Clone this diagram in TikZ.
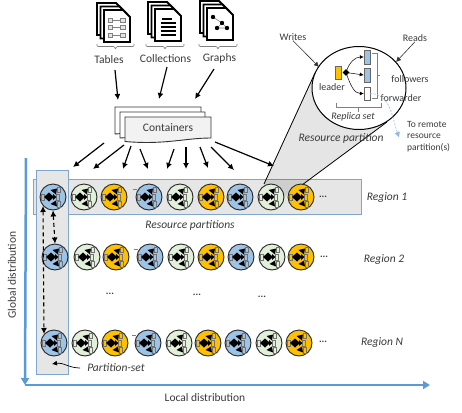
\documentclass[tikz,border=0pt]{standalone}
\usepackage{fontspec}
\setmainfont{Carlito}
\usetikzlibrary{arrows.meta,calc,positioning,shapes.geometric}
\definecolor{pcol1}{HTML}{9DC3E6}
\definecolor{pcol2}{HTML}{E2F0D9}
\definecolor{pcol0}{HTML}{FFC000}
\definecolor{axisblue}{HTML}{5B9BD5}
\definecolor{panelline}{HTML}{7FA6CC}
\definecolor{panelfill}{HTML}{E6E6E6}
\definecolor{txt}{HTML}{3A3A3A}

\begin{document}
\begin{tikzpicture}[x=1pt, y=-1pt, font=\fontsize{11.5pt}{13pt}\selectfont,
      lbl/.style = {inner sep=0pt, text=txt},
      ital/.style = {lbl, font=\fontsize{11.5pt}{13pt}\selectfont\itshape},
      flow/.style = {-{Latex[length=6pt,width=6pt]}, black, line width=1.2pt},
      dashflow/.style = {{Latex[length=6pt,width=6pt]}-{Latex[length=6pt,width=6pt]}, black, line width=1.1pt, dash pattern=on 4pt off 3pt},
      panel/.style = {draw=panelline, fill=panelfill, line width=1pt},
      partn/.style = {circle, draw=black!85, line width=.9pt, minimum size=26pt, inner sep=0pt},
      axisline/.style = {draw=axisblue, line width=2.5pt},
      bracket/.style = {draw=gray, line width=.6pt},
      sheet/.style = {draw=black!80, line width=.9pt},
      page/.style = {draw=black, fill=white, line width=1.9pt},
      cell/.style = {draw=gray, fill=black!10, line width=.5pt},
      mini/.style = {draw=black!55, line width=.5pt},
      replica/.style = {draw=black!60, line width=.5pt},
      docstack/.pic = {
        \foreach \off in {7,3.5,0} {
          \draw[page, line join=miter] (-\off,-\off+1) -- ++(19,0) -- ++(7,7) -- ++(0,25) -- ++(-26,0) -- cycle;
        }
      },
      tablebits/.pic = {
        \foreach \yy in {9,16.5,24} {
          \draw[gray, line width=.5pt] (6,\yy+2) -- (18,\yy+2);
          \draw[cell] (4,\yy) rectangle (8,\yy+4);
          \draw[cell] (16,\yy) rectangle (21,\yy+4);
        }
      },
      textbits/.pic = {
        \draw[black, line width=1.1pt] (7,11) -- (17,11);
        \foreach \yy in {15,19,23,27} {
          \draw[black, line width=1.1pt] (6,\yy) -- (21,\yy);
        }
      },
      graphbits/.pic = {
        \draw[gray, line width=.6pt] (6,10) -- (15,16) -- (10,21) (15,16) -- (20,21) -- (10,21);
        \foreach \gx/\gy in {6/10,15/16,10/21,20/21} {
          \fill[black] (\gx,\gy) circle (2.2pt);
        }
      },
      innards/.pic = {
        \draw[mini] (-11.5,-3) rectangle (-8.5,3);
        \draw[mini] (4.5,-10) rectangle (7.5,-4.5);
        \draw[mini] (3.5,-3) rectangle (6.5,3);
        \draw[mini] (4.5,4.5) rectangle (7.5,10);
        \fill[black] (-9,0) -- (-4,-4.5) -- (1,0) -- (-4,4.5) -- cycle;
        \fill[black] (0,-3) -- (3.5,0) -- (0,3) -- cycle;
        \fill[black] (-2.5,-7) -- (4,-8.5) -- (3,-2.5) -- cycle;
        \fill[black] (-2.5,7) -- (4,9.5) -- (3,3.5) -- cycle;
      }]

      \useasboundingbox (0,0) rectangle (462,412);

      \fill[white] (0,0) rectangle (462,412);

      % document icons on top
      \pic at (104,9) {docstack};
      \pic at (104,9) {tablebits};
      \pic at (155,8) {docstack};
      \pic at (155,8) {textbits};
      \pic at (207,7) {docstack};
      \pic at (207,7) {graphbits};

      \foreach \bl/\br in {97/134,146/184,199/237} {
        \draw[bracket, rounded corners=1pt] (\bl,44) -- (\bl,46.5) -- ({(\bl+\br)/2-1},46.5) -- ({(\bl+\br)/2},49.5) -- ({(\bl+\br)/2+1},46.5) -- (\br,46.5) -- (\br,44);
      }

      \node[lbl] (tablest) at (109,59.5) {Tables};
      \node[lbl] (collectionst) at (165.5,59) {Collections};
      \node[lbl] (graphst) at (219.5,58.5) {Graphs};

      % stacked containers
      \draw[sheet, fill=white] (115,107) -- (201,107) -- (201,128) -- (115,134) -- cycle;
      \draw[sheet, fill=white] (120,112) -- (205,112) -- (205,133) -- (120,138) -- cycle;
      \draw[sheet, fill=black!5] (125,117) -- (211,117) -- (211,138) .. controls (185,138) and (165,145) .. (125,141.5) -- cycle;
      \node[lbl] (containers) at (168,127.5) {Containers};

      \coordinate (tin) at (118,100);
      \coordinate (cin) at (159,99);
      \coordinate (gin) at (195,99);
      \draw[flow] (115,70) coordinate (tout) -- (tin);
      \draw[flow] (167,67) coordinate (cout) -- (cin);
      \draw[flow] (214,69) coordinate (gout) -- (gin);

      % fan out from the containers
      \foreach \fan/\sx/\sy/\ex/\ey in {a/104/143/73/167,b/124/145/93/169,c/131/146/123/169,d/140/149/148/169,e/174/149/167/169,f/186/147/186/169,g/200/147/208/168,h/211/147/234/170,i/215/142/274/166} {
        \coordinate (fan\fan s) at (\sx,\sy);
        \coordinate (fan\fan e) at (\ex,\ey);
        \draw[flow] (fan\fan s) -- (fan\fan e);
      }

      % panels
      \draw[panel] (33,179) rectangle (361,214);

      \coordinate (conea) at (315,73);
      \coordinate (coneb) at (264,184);
      \coordinate (conec) at (285,196);
      \coordinate (coned) at (302,185);
      \coordinate (conee) at (387,122);
      \fill[black, opacity=.1] (conea) -- (coneb) -- (conec) -- (coned) -- (conee) -- cycle;
      \draw[black, line width=.8pt] (conea) -- (coneb);
      \draw[black, line width=.8pt] (conee) -- (coned);

      \draw[panel] (36,170) rectangle (68,374);

      % rows of partitions
      \foreach \rown/\yrow/\xlist in {a/197/{53,84,114,149,180,211,240,271,301},b/257/{55,87,116,150,181,211,241,272,301},c/343/{54,85,115,148,179,208,238,269,299}} {
        \foreach \xcol [count=\i] in \xlist {
          \pgfmathtruncatemacro{\m}{mod(\i,3)}
          \node[partn, fill=pcol\m] (\rown\i) at (\xcol,\yrow) {};
          \pic at (\rown\i) {innards};
        }
        \draw[gray, line width=.5pt] ([shift={(-3,-8)}]\rown4.west) -- ++(4,0);
      }

      \draw[dashflow] (a1.south) -- (b1.north);
      \draw[dashflow] (a1.222) -- (c1.138);

      \node[lbl, font=\bfseries] (dotsa) at (323,197) {...};
      \node[lbl, font=\bfseries] (dotsb) at (324,257) {...};
      \node[lbl, font=\bfseries] (dotsc) at (323,342) {...};
      \node[lbl, font=\bfseries] (dotsd) at (110,294) {...};
      \node[lbl, font=\bfseries] (dotse) at (197,295) {...};
      \node[lbl, font=\bfseries] (dotsf) at (262,297) {...};

      \node[ital] (regiona) at (387,198) {Region 1};
      \node[ital] (regionb) at (384,260) {Region 2};
      \node[ital] (regionc) at (382,343) {Region N};
      \node[ital] (resparts) at (190,225) {Resource partitions};
      \node[ital] (psett) at (116,368) {Partition-set};
      \coordinate (psetin) at (52,364);
      \draw[-{Latex[length=5pt,width=5pt]}, black, line width=.7pt] (psett.west) ++(-7,0) coordinate (psetout) to[out=180,in=10] (psetin);

      % axes
      \coordinate (origin) at (25,385);
      \coordinate (axtop) at (26,158);
      \coordinate (axend) at (430,385);
      \draw[axisline, -{Triangle[length=7pt,width=8pt]}] (axtop) -- (origin);
      \draw[axisline, -{Triangle[length=7pt,width=8pt]}] (origin) -- (axend);
      \node[lbl, rotate=90] (globalt) at (12,275) {Global distribution};
      \node[lbl] (localt) at (205,398) {Local distribution};

      % magnified partition
      \node[ellipse, draw=black, fill=white, line width=1pt, minimum width=94pt, minimum height=83pt, inner sep=0pt] (lens) at (359,88) {};
      \node[draw=black!60, fill=pcol0, line width=.5pt, inner sep=0pt, minimum width=6pt, minimum height=13pt] (leadern) at (338,72.5) {};
      \node[replica, fill=pcol1, inner sep=0pt, minimum width=6pt, minimum height=14pt] (followa) at (367,57) {};
      \node[replica, fill=pcol1, inner sep=0pt, minimum width=6pt, minimum height=14pt] (followb) at (367,75) {};
      \node[replica, fill=white, inner sep=0pt, minimum width=6pt, minimum height=13pt] (forwardn) at (367,93.5) {};
      \node[diamond, fill=black, inner sep=0pt, minimum size=7pt, right=1pt of leadern] (hub) {};
      \draw[-{Latex[length=4pt,width=4pt]}, line width=.5pt] (hub) to[out=70,in=180] (followa);
      \draw[-{Latex[length=4pt,width=4pt]}, line width=.5pt] (hub) -- (followb.west);
      \draw[-{Latex[length=4pt,width=4pt]}, line width=.5pt] (hub) to[out=-70,in=180] (forwardn);
      \draw[bracket] (372,53) -- (377,53) -- (377,98) -- (372,98);
      \draw[bracket] (377,75) -- (380,75);
      \draw[bracket] (336,103) -- (336,107) -- (381,107) -- (381,103);
      \draw[bracket] (358,107) -- (358,112);

      \node[lbl, font=\fontsize{10pt}{12pt}\selectfont] (leadert) at (332,87) {leader};
      \node[lbl, font=\fontsize{10pt}{12pt}\selectfont] (followt) at (410,79) {followers};
      \node[lbl, font=\fontsize{10pt}{12pt}\selectfont] (forwardt) at (401,98) {forwarder};
      \node[ital, font=\fontsize{10pt}{12pt}\selectfont\itshape] (replicat) at (353,117) {Replica set};
      \node[ital] (respartt) at (341,138) {Resource partition};

      \node[lbl, font=\fontsize{10pt}{12pt}\selectfont] (writest) at (293,37) {Writes};
      \node[lbl, font=\fontsize{10pt}{12pt}\selectfont] (readst) at (415,38) {Reads};
      \coordinate (writesin) at (319,67);
      \coordinate (readsin) at (396,62);
      \draw[-{Latex[length=5pt,width=5pt]}, black!80, line width=.6pt] (writest.south) -- (writesin);
      \draw[-{Latex[length=5pt,width=5pt]}, black!80, line width=.6pt] (readst.south) -- (readsin);

      \node[lbl, align=left, anchor=west, font=\fontsize{9.5pt}{11.5pt}\selectfont] (remotet) at (407,136.5) {To remote\\resource\\partition(s)};
      \coordinate (remotein) at (399,137);
      \draw[-{Triangle[length=5pt,width=5pt]}, axisblue!70, line width=.6pt, dash pattern=on 2pt off 1.5pt] (forwardn.east) to[out=0,in=110] (remotein);

\end{tikzpicture}
\end{document}
